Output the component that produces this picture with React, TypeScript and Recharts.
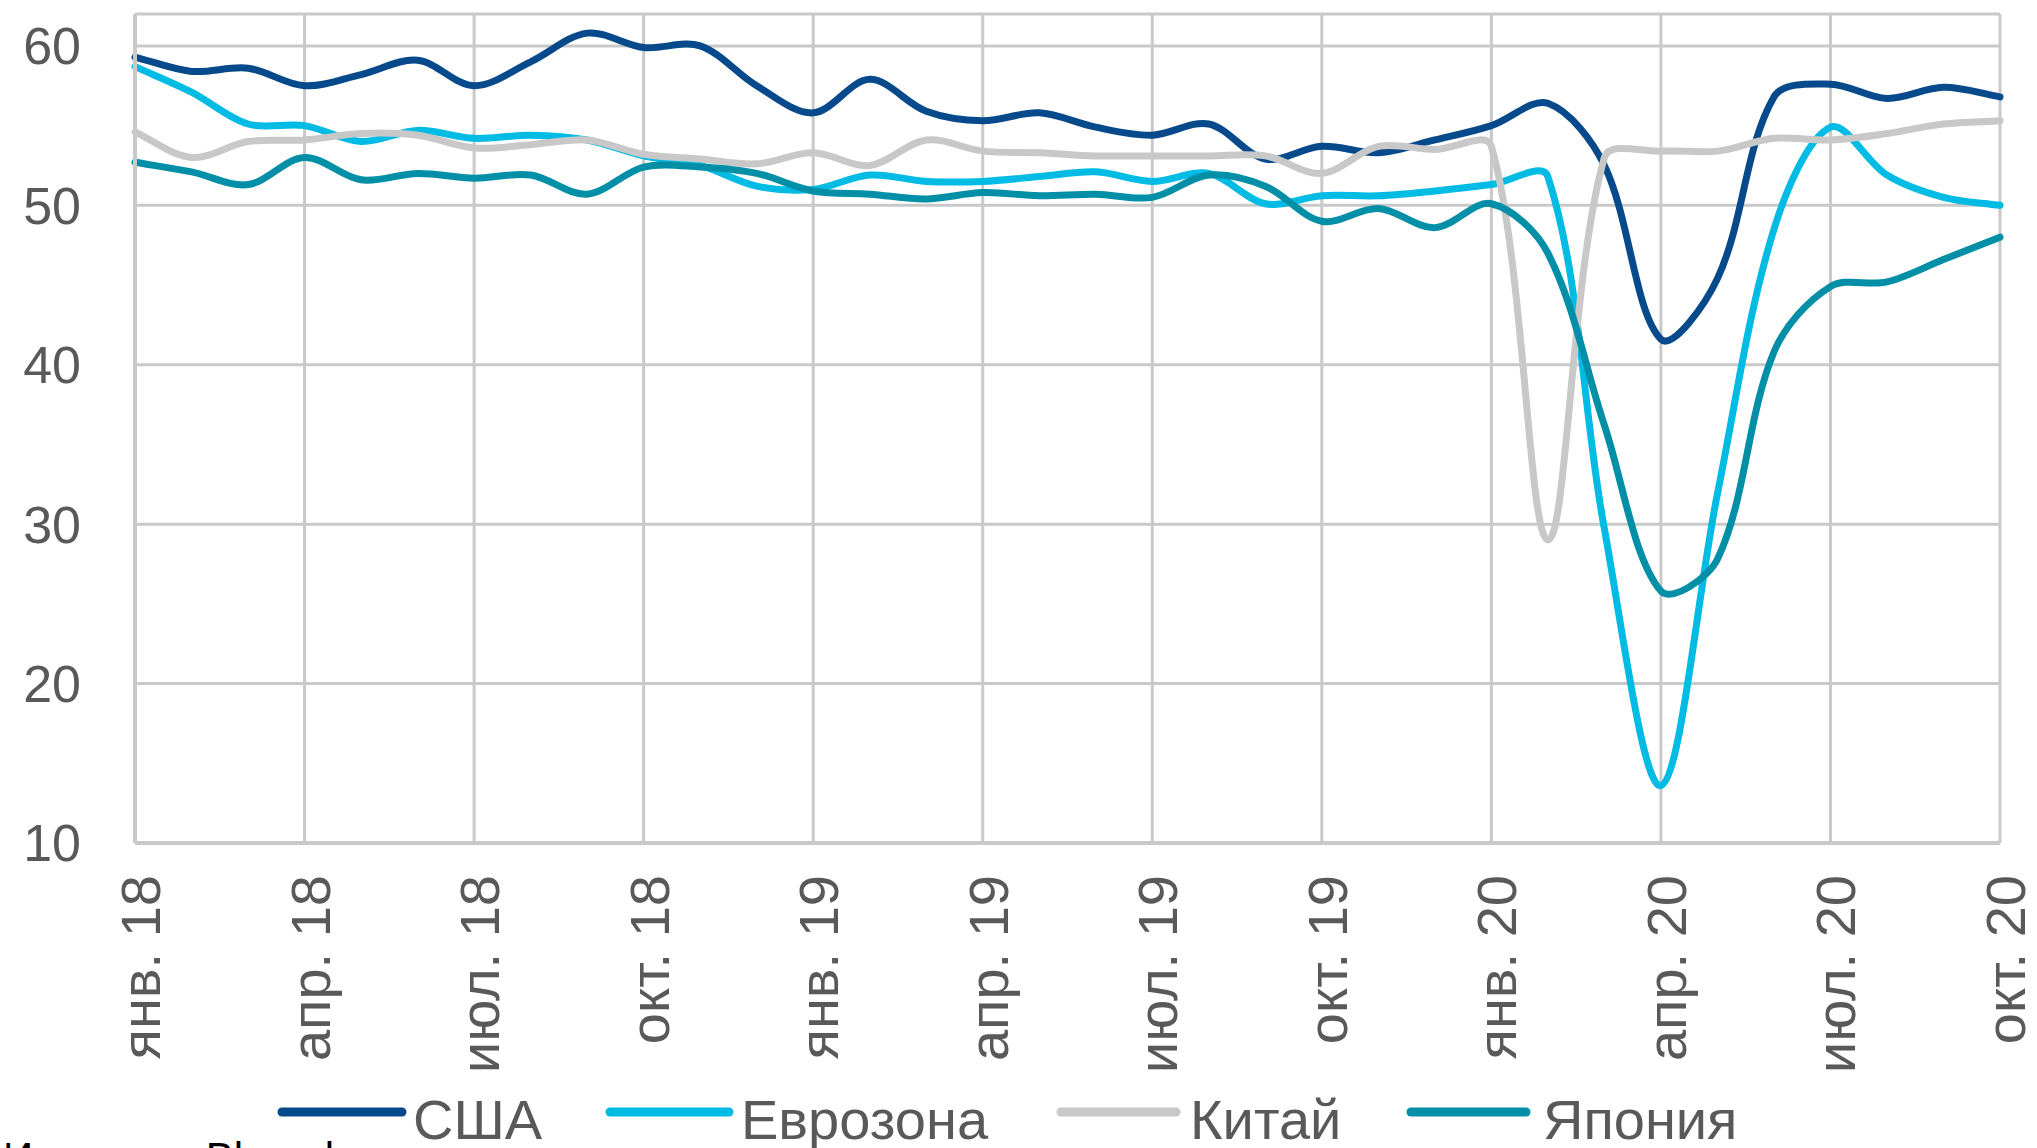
import React from 'react';
import { LineChart, Line, XAxis, YAxis, CartesianGrid } from 'recharts';

const months = [
  'янв. 18', 'февр. 18', 'мар. 18', 'апр. 18', 'май 18', 'июн. 18',
  'июл. 18', 'авг. 18', 'сент. 18', 'окт. 18', 'нояб. 18', 'дек. 18',
  'янв. 19', 'февр. 19', 'мар. 19', 'апр. 19', 'май 19', 'июн. 19',
  'июл. 19', 'авг. 19', 'сент. 19', 'окт. 19', 'нояб. 19', 'дек. 19',
  'янв. 20', 'февр. 20', 'мар. 20', 'апр. 20', 'май 20', 'июн. 20',
  'июл. 20', 'авг. 20', 'сент. 20', 'окт. 20',
];

const tickMonths = [
  'янв. 18', 'апр. 18', 'июл. 18', 'окт. 18',
  'янв. 19', 'апр. 19', 'июл. 19', 'окт. 19',
  'янв. 20', 'апр. 20', 'июл. 20', 'окт. 20',
];

const yTicks = [10, 20, 30, 40, 50, 60];

const usa = [
  59.3, 58.4, 58.6, 57.5, 58.2, 59.1, 57.5, 59.0, 60.8, 59.9, 60.0, 57.5,
  55.8, 57.9, 55.9, 55.3, 55.8, 54.9, 54.4, 55.1, 52.9, 53.7, 53.3, 54.1,
  55.0, 56.4, 52.5, 41.6, 45.4, 56.8, 57.6, 56.7, 57.4, 56.8,
];

const eurozone = [
  58.7, 57.1, 55.1, 55.0, 54.0, 54.7, 54.2, 54.4, 54.1, 53.1, 52.5, 51.2,
  51.0, 51.9, 51.5, 51.5, 51.8, 52.1, 51.5, 52.0, 50.1, 50.6, 50.6, 50.9,
  51.3, 51.8, 29.7, 13.6, 31.9, 48.5, 54.9, 51.9, 50.5, 50.0,
];

const china = [
  54.6, 53.0, 54.0, 54.1, 54.5, 54.4, 53.6, 53.8, 54.1, 53.2, 52.9, 52.6,
  53.3, 52.5, 54.1, 53.4, 53.3, 53.1, 53.1, 53.1, 53.1, 52.0, 53.7, 53.5,
  53.7, 29.0, 53.0, 53.4, 53.4, 54.2, 54.1, 54.5, 55.1, 55.3,
];

const japan = [
  52.7, 52.1, 51.3, 53.0, 51.6, 52.0, 51.7, 51.9, 50.7, 52.4, 52.4, 52.0,
  50.9, 50.7, 50.4, 50.8, 50.6, 50.7, 50.5, 51.9, 51.2, 49.0, 49.8, 48.6,
  50.1, 47.0, 36.2, 25.8, 27.8, 40.8, 44.9, 45.2, 46.6, 48.0,
];

const series = [
  { key: 'usa', name: 'США', color: '#074A8C' },
  { key: 'eurozone', name: 'Еврозона', color: '#00BBE3' },
  { key: 'china', name: 'Китай', color: '#C8C8C8' },
  { key: 'japan', name: 'Япония', color: '#008FA7' },
];

const data = months.map((month, i) => ({
  month,
  usa: usa[i],
  eurozone: eurozone[i],
  china: china[i],
  japan: japan[i],
}));

const FONT = '"Liberation Sans", Arial, sans-serif';
const GRID = '#C9C9C9';
const TEXT = '#595959';

// Excel-like smoothed line: bezier through every point, tangent split by segment length
function excelCurve(context: any) {
  let pts: number[][] = [];
  const t = 1 / 3;
  const dist = (a: number[], b: number[]) => Math.hypot(b[0] - a[0], b[1] - a[1]);
  return {
    areaStart() {},
    areaEnd() {},
    lineStart() {
      pts = [];
    },
    lineEnd() {
      const n = pts.length;
      if (!n) return;
      const outCp: number[][] = [];
      const inCp: number[][] = [];
      for (let i = 0; i < n; i++) {
        const p0 = pts[Math.max(i - 1, 0)];
        const p1 = pts[i];
        const p2 = pts[Math.min(i + 1, n - 1)];
        const d01 = dist(p0, p1);
        const d12 = dist(p1, p2);
        const sum = d01 + d12 || 1;
        const tx = p2[0] - p0[0];
        const ty = p2[1] - p0[1];
        inCp.push([p1[0] - (tx * t * d01) / sum, p1[1] - (ty * t * d01) / sum]);
        outCp.push([p1[0] + (tx * t * d12) / sum, p1[1] + (ty * t * d12) / sum]);
      }
      context.moveTo(pts[0][0], pts[0][1]);
      for (let i = 0; i < n - 1; i++) {
        context.bezierCurveTo(
          outCp[i][0], outCp[i][1],
          inCp[i + 1][0], inCp[i + 1][1],
          pts[i + 1][0], pts[i + 1][1],
        );
      }
    },
    point(x: number, y: number) {
      pts.push([+x, +y]);
    },
  };
}

const MonthTick = ({ x, y, payload }: any) => (
  <text
    transform={`translate(${x + 25},${y + 32}) rotate(-90)`}
    textAnchor="end"
    fontSize={56}
    fontFamily={FONT}
    fill={TEXT}
  >
    {payload.value}
  </text>
);

const legendPos = [
  { x1: 282, x2: 402, tx: 413 },
  { x1: 610, x2: 729, tx: 741 },
  { x1: 1061, x2: 1176, tx: 1190 },
  { x1: 1411, x2: 1526, tx: 1543 },
];

export default function App() {
  return (
    <div
      style={{
        position: 'fixed',
        top: 0,
        left: 0,
        width: 2037,
        height: 1148,
        overflow: 'hidden',
        background: '#fff',
        fontFamily: FONT,
      }}
    >
      <LineChart
        width={2037}
        height={1148}
        data={data}
        margin={{ top: 14, right: 37, bottom: 0, left: 0 }}
      >
        <CartesianGrid stroke={GRID} strokeWidth={3} />
        <XAxis
          dataKey="month"
          ticks={tickMonths}
          interval={0}
          height={305}
          tickSize={0}
          tickMargin={0}
          tickLine={false}
          axisLine={{ stroke: GRID, strokeWidth: 4 }}
          tick={<MonthTick />}
        />
        <YAxis
          domain={[10, 62]}
          ticks={yTicks}
          width={135}
          tickSize={0}
          tickMargin={54}
          tickLine={false}
          axisLine={{ stroke: GRID, strokeWidth: 4 }}
          tick={{ fill: TEXT, fontSize: 52, fontFamily: FONT }}
        />
        {series.map((s) => (
          <Line
            key={s.key}
            type={excelCurve as any}
            dataKey={s.key}
            name={s.name}
            stroke={s.color}
            strokeWidth={7}
            strokeLinecap="round"
            strokeLinejoin="round"
            dot={false}
            activeDot={false}
            isAnimationActive={false}
          />
        ))}
      </LineChart>
      <svg
        width={2037}
        height={1148}
        style={{ position: 'absolute', top: 0, left: 0, pointerEvents: 'none' }}
      >
        {series.map((s, i) => (
          <g key={s.key}>
            <line
              x1={legendPos[i].x1}
              x2={legendPos[i].x2}
              y1={1112}
              y2={1112}
              stroke={s.color}
              strokeWidth={9}
              strokeLinecap="round"
            />
            <text
              x={legendPos[i].tx}
              y={1139}
              fontSize={56}
              fontFamily={FONT}
              fill={TEXT}
            >
              {s.name}
            </text>
          </g>
        ))}
        <text x={3} y={1172} fontSize={42} fontFamily={FONT} fill="#000">
          Источник: Bloomberg
        </text>
      </svg>
    </div>
  );
}
